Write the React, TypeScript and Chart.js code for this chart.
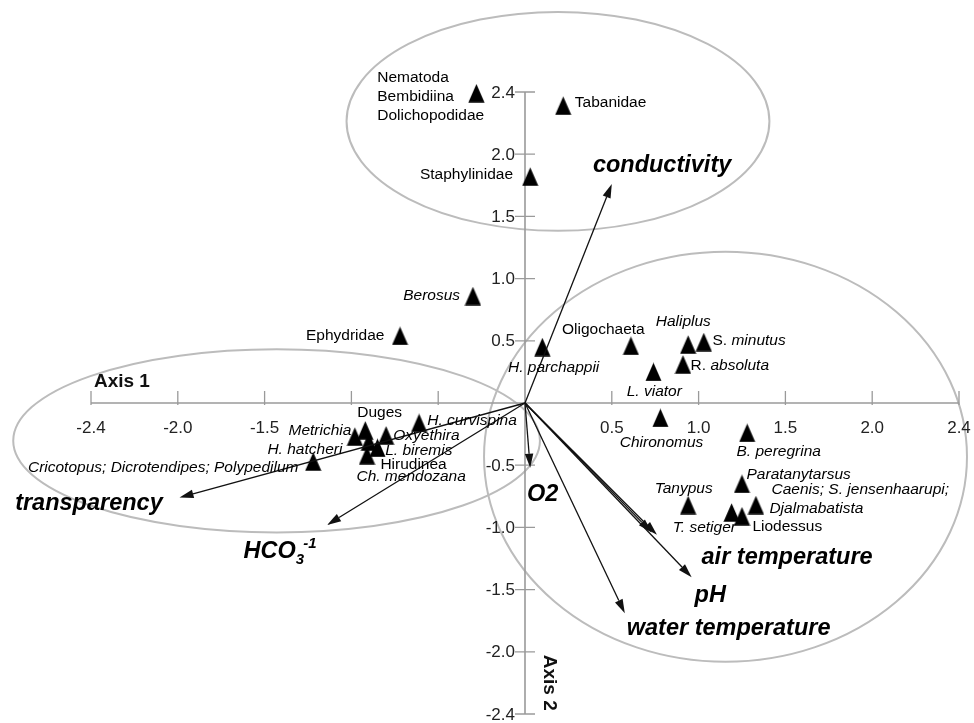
import React, { useEffect, useRef } from "react";
import { Chart, registerables } from "chart.js";

Chart.register(...registerables);

// ---- Species scores (triangles) ----
const speciesNames = [
  "Nematoda / Bembidiina / Dolichopodidae", "Tabanidae", "Staphylinidae", "Berosus", "Ephydridae",
  "H. parchappii", "Oligochaeta", "Haliplus", "S. minutus", "R. absoluta", "L. viator",
  "Chironomus", "B. peregrina", "Paratanytarsus", "Caenis; S. jensenhaarupi; Djalmabatista",
  "Tanypus", "T. setiger", "Liodessus", "H. curvispina", "Duges", "Metrichia", "Oxyethira",
  "H. hatcheri", "L. biremis", "Hirudinea / Ch. mendozana", "Cricotopus; Dicrotendipes; Polypedilum",
];
const speciesX = [
  -0.28, 0.22, 0.03, -0.30, -0.72, 0.10, 0.61, 0.94, 1.03, 0.91, 0.74,
  0.78, 1.28, 1.25, 1.33, 0.94, 1.19, 1.25, -0.61, -0.92, -0.98, -0.80,
  -0.90, -0.85, -0.91, -1.22,
];
const speciesY = [
  2.49, 2.39, 1.82, 0.86, 0.54, 0.45, 0.46, 0.47, 0.49, 0.31, 0.25,
  -0.12, -0.24, -0.65, -0.82, -0.82, -0.88, -0.91, -0.16, -0.22, -0.27, -0.26,
  -0.31, -0.36, -0.42, -0.47,
];

// ---- Environmental vectors (arrows) ----
const vectorNames = ["conductivity", "transparency", "HCO3-1", "O2", "air temperature", "air temperature", "pH", "water temperature"];
const vectorX = [0.50, -1.99, -1.14, 0.03, 0.76, 0.73, 0.96, 0.575];
const vectorY = [1.76, -0.76, -0.98, -0.52, -1.06, -1.04, -1.40, -1.69];

// ---- Axis ticks ----
const tickValues = [-2.5, -2, -1.5, -1, -0.5, 0.5, 1, 1.5, 2, 2.5];
const xTickLabels = ["-2.4", "-2.0", "-1.5", "", "", "0.5", "1.0", "1.5", "2.0", "2.4"];
const yTickLabels = ["-2.4", "-2.0", "-1.5", "-1.0", "-0.5", "0.5", "1.0", "1.5", "2.0", "2.4"];

// ---- Group ellipses (data units) ----
const ellipseCX = [0.19, -1.431, 1.155];
const ellipseCY = [2.264, -0.304, -0.432];
const ellipseRX = [1.218, 1.517, 1.391];
const ellipseRY = [0.88, 0.736, 1.648];

// ---- Species labels: segments [text, italic], anchor (data units), alignment ----
type Seg = [string, boolean];
const speciesLabels: { t: Seg[]; x: number; y: number; a?: "left" | "right" }[] = [
  { t: [["Nematoda", false]], x: -0.851, y: 2.616 },
  { t: [["Bembidiina", false]], x: -0.851, y: 2.464 },
  { t: [["Dolichopodidae", false]], x: -0.851, y: 2.312 },
  { t: [["Tabanidae", false]], x: 0.287, y: 2.416 },
  { t: [["Staphylinidae", false]], x: -0.069, y: 1.832, a: "right" },
  { t: [["Berosus", true]], x: -0.374, y: 0.864, a: "right" },
  { t: [["Ephydridae", false]], x: -0.81, y: 0.544, a: "right" },
  { t: [["H. parchappii", true]], x: -0.098, y: 0.28 },
  { t: [["Oligochaeta", false]], x: 0.213, y: 0.592 },
  { t: [["Haliplus", true]], x: 0.753, y: 0.656 },
  { t: [["S. ", false], ["minutus", true]], x: 1.08, y: 0.504 },
  { t: [["R. ", false], ["absoluta", true]], x: 0.954, y: 0.296 },
  { t: [["L. viator", true]], x: 0.586, y: 0.088 },
  { t: [["Chironomus", true]], x: 0.546, y: -0.32 },
  { t: [["B. peregrina", true]], x: 1.218, y: -0.392 },
  { t: [["Paratanytarsus", true]], x: 1.276, y: -0.576 },
  { t: [["Caenis; S. jensenhaarupi;", true]], x: 1.42, y: -0.696 },
  { t: [["Djalmabatista", true]], x: 1.408, y: -0.848 },
  { t: [["Tanypus", true]], x: 0.747, y: -0.688 },
  { t: [["T. setiger", true]], x: 0.851, y: -1.0 },
  { t: [["Liodessus", false]], x: 1.31, y: -0.992 },
  { t: [["H. curvispina", true]], x: -0.563, y: -0.144 },
  { t: [["Duges", false]], x: -0.966, y: -0.08 },
  { t: [["Metrichia", true]], x: -1.0, y: -0.224, a: "right" },
  { t: [["Oxyethira", true]], x: -0.759, y: -0.264 },
  { t: [["H. hatcheri", true]], x: -1.052, y: -0.376, a: "right" },
  { t: [["L. biremis", true]], x: -0.805, y: -0.384 },
  { t: [["Hirudinea", false]], x: -0.833, y: -0.496 },
  { t: [["Ch. mendozana", true]], x: -0.971, y: -0.592 },
  { t: [["Cricotopus; Dicrotendipes; Polypedilum", true]], x: -1.305, y: -0.52, a: "right" },
];

// ---- Vector labels (left / baseline, data units) ----
const vectorLabels = [
  { text: "conductivity", x: 0.391, y: 1.856 },
  { text: "transparency", x: -2.937, y: -0.864 },
  { text: "HCO", x: -1.621, y: -1.248 },
  { text: "O2", x: 0.011, y: -0.784 },
  { text: "air temperature", x: 1.017, y: -1.296 },
  { text: "pH", x: 0.977, y: -1.6 },
  { text: "water temperature", x: 0.586, y: -1.864 },
];

const FONT = '"Liberation Sans", Arial, Helvetica, sans-serif';

function makeTriangle(): HTMLCanvasElement {
  const c = document.createElement("canvas");
  c.width = 17;
  c.height = 19;
  const g = c.getContext("2d")!;
  g.fillStyle = "#000";
  g.beginPath();
  g.moveTo(8.5, 0.3);
  g.lineTo(16.6, 18.7);
  g.lineTo(0.4, 18.7);
  g.closePath();
  g.fill();
  return c;
}

function drawArrow(ctx: CanvasRenderingContext2D, x0: number, y0: number, x1: number, y1: number) {
  const ang = Math.atan2(y1 - y0, x1 - x0);
  const L = 14;
  const W = 4.2;
  const bx = x1 - L * Math.cos(ang);
  const by = y1 - L * Math.sin(ang);
  ctx.beginPath();
  ctx.moveTo(x0, y0);
  ctx.lineTo(bx, by);
  ctx.stroke();
  ctx.beginPath();
  ctx.moveTo(x1, y1);
  ctx.lineTo(bx + W * Math.sin(ang), by - W * Math.cos(ang));
  ctx.lineTo(bx - W * Math.sin(ang), by + W * Math.cos(ang));
  ctx.closePath();
  ctx.fill();
}

const overlayPlugin = {
  id: "ordinationOverlay",
  beforeDatasetsDraw(chart: any) {
    const ctx: CanvasRenderingContext2D = chart.ctx;
    const xs = chart.scales.x;
    const ys = chart.scales.y;
    ctx.save();
    // ellipses
    ctx.strokeStyle = "#bcbcbc";
    ctx.lineWidth = 2;
    for (let i = 0; i < ellipseCX.length; i++) {
      const cx = xs.getPixelForValue(ellipseCX[i]);
      const cy = ys.getPixelForValue(ellipseCY[i]);
      const rx = Math.abs(xs.getPixelForValue(ellipseCX[i] + ellipseRX[i]) - cx);
      const ry = Math.abs(ys.getPixelForValue(ellipseCY[i] + ellipseRY[i]) - cy);
      ctx.beginPath();
      ctx.ellipse(cx, cy, rx, ry, 0, 0, Math.PI * 2);
      ctx.stroke();
    }
    // axes
    const ox = xs.getPixelForValue(0);
    const oy = ys.getPixelForValue(0);
    ctx.strokeStyle = "#9a9a9a";
    ctx.lineWidth = 1.6;
    ctx.beginPath();
    ctx.moveTo(xs.getPixelForValue(-2.5), oy);
    ctx.lineTo(xs.getPixelForValue(2.5), oy);
    ctx.moveTo(ox, ys.getPixelForValue(2.5));
    ctx.lineTo(ox, ys.getPixelForValue(-2.5));
    ctx.stroke();
    ctx.lineWidth = 1.3;
    ctx.beginPath();
    for (const v of tickValues) {
      const px = xs.getPixelForValue(v);
      ctx.moveTo(px, oy - 12);
      ctx.lineTo(px, oy + 2);
      const py = ys.getPixelForValue(v);
      ctx.moveTo(ox - 10, py);
      ctx.lineTo(ox + 10, py);
    }
    ctx.stroke();
    // tick labels
    ctx.fillStyle = "#222";
    ctx.font = `17px ${FONT}`;
    ctx.textBaseline = "middle";
    ctx.textAlign = "center";
    tickValues.forEach((v, i) => {
      if (xTickLabels[i]) ctx.fillText(xTickLabels[i], xs.getPixelForValue(v), oy + 25);
    });
    ctx.textAlign = "right";
    tickValues.forEach((v, i) => {
      if (yTickLabels[i]) ctx.fillText(yTickLabels[i], ox - 10, ys.getPixelForValue(v) + 1);
    });
    // axis titles
    ctx.fillStyle = "#111";
    ctx.font = `bold 19px ${FONT}`;
    ctx.textAlign = "left";
    ctx.textBaseline = "alphabetic";
    ctx.fillText("Axis 1", xs.getPixelForValue(-2.483), ys.getPixelForValue(0.128));
    ctx.save();
    ctx.translate(xs.getPixelForValue(0.14), ys.getPixelForValue(-2.024));
    ctx.rotate(Math.PI / 2);
    ctx.textBaseline = "middle";
    ctx.fillText("Axis 2", 0, 0);
    ctx.restore();
    ctx.restore();
  },
  afterDatasetsDraw(chart: any) {
    const ctx: CanvasRenderingContext2D = chart.ctx;
    const xs = chart.scales.x;
    const ys = chart.scales.y;
    const ox = xs.getPixelForValue(0);
    const oy = ys.getPixelForValue(0);
    ctx.save();
    // arrows
    ctx.strokeStyle = "#111";
    ctx.fillStyle = "#111";
    ctx.lineWidth = 1.3;
    for (let i = 0; i < vectorX.length; i++) {
      drawArrow(ctx, ox, oy, xs.getPixelForValue(vectorX[i]), ys.getPixelForValue(vectorY[i]));
    }
    // species labels
    ctx.fillStyle = "#000";
    ctx.textBaseline = "middle";
    ctx.textAlign = "left";
    for (const lab of speciesLabels) {
      let total = 0;
      const widths = lab.t.map(([s, it]) => {
        ctx.font = `${it ? "italic " : ""}15.5px ${FONT}`;
        const w = ctx.measureText(s).width;
        total += w;
        return w;
      });
      let px = xs.getPixelForValue(lab.x);
      if (lab.a === "right") px -= total;
      const py = ys.getPixelForValue(lab.y);
      lab.t.forEach(([s, it], k) => {
        ctx.font = `${it ? "italic " : ""}15.5px ${FONT}`;
        ctx.fillText(s, px, py);
        px += widths[k];
      });
    }
    // vector labels
    ctx.textBaseline = "alphabetic";
    ctx.fillStyle = "#000";
    for (const vl of vectorLabels) {
      const px = xs.getPixelForValue(vl.x);
      const py = ys.getPixelForValue(vl.y);
      ctx.font = `italic bold 23.5px ${FONT}`;
      ctx.fillText(vl.text, px, py);
      if (vl.text === "HCO") {
        const w = ctx.measureText("HCO").width;
        ctx.font = `italic bold 15px ${FONT}`;
        ctx.fillText("3", px + w, py + 6);
        const w3 = ctx.measureText("3").width;
        ctx.fillText("-1", px + w + w3 - 1, py - 10);
      }
    }
    ctx.restore();
  },
};

export default function App() {
  const ref = useRef<HTMLCanvasElement | null>(null);
  useEffect(() => {
    if (!ref.current) return;
    const tri = makeTriangle();
    const chart = new Chart(ref.current, {
      type: "scatter",
      data: {
        datasets: [
          {
            label: "species",
            data: speciesX.map((x, i) => ({ x, y: speciesY[i] })),
            pointStyle: tri as any,
            pointRadius: 9,
            backgroundColor: "#000",
            borderWidth: 0,
            clip: false,
          } as any,
        ],
      },
      options: {
        animation: false,
        responsive: false,
        devicePixelRatio: 1,
        layout: { padding: { left: 91, right: 15, top: 92, bottom: 5 } },
        scales: {
          x: { type: "linear", min: -2.5, max: 2.5, display: false },
          y: { type: "linear", min: -2.5, max: 2.5, display: false },
        },
        plugins: { legend: { display: false }, tooltip: { enabled: false } },
      },
      plugins: [overlayPlugin],
    });
    return () => chart.destroy();
  }, []);
  return (
    <div style={{ position: "absolute", left: 0, top: 0, width: 974, height: 723, background: "#fff" }}>
      <canvas ref={ref} width={974} height={723} style={{ display: "block" }} />
    </div>
  );
}
